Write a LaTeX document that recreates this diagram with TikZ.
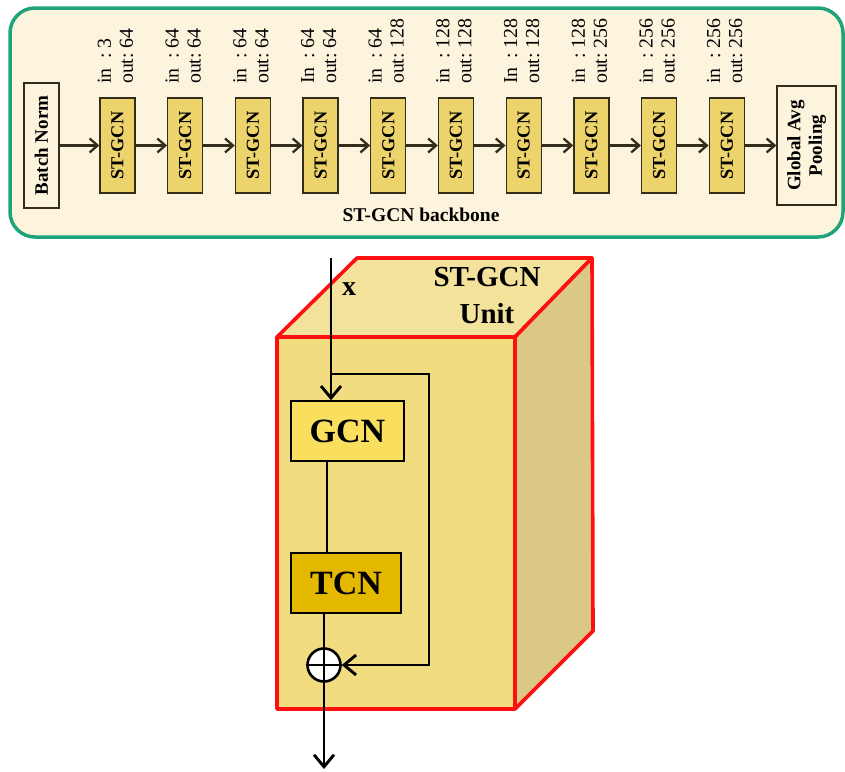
\documentclass[tikz,border=0pt]{standalone}
\usepackage{fontspec}
\setmainfont{Liberation Serif}
\usetikzlibrary{arrows.meta,calc}
\definecolor{panelfill}{HTML}{FCF4DC}
\definecolor{panelgreen}{HTML}{1FA37A}
\definecolor{stfill}{HTML}{EDD36C}
\definecolor{darkline}{HTML}{332E1C}
\definecolor{cubetop}{HTML}{F3E29C}
\definecolor{cubefront}{HTML}{F2DC80}
\definecolor{cuberight}{HTML}{DCC886}
\definecolor{gcnfill}{HTML}{FADF5E}
\definecolor{tcnfill}{HTML}{E5B800}
\definecolor{cubered}{HTML}{FF1010}
\tikzset{
  stbox/.style={draw=darkline, line width=1.3pt, fill=stfill, rotate=90, minimum width=95pt, minimum height=35pt, inner sep=0pt, font=\fontsize{18.3}{20}\selectfont\bfseries},
  plainbox/.style={draw=darkline, line width=1.3pt, fill=panelfill, rotate=90, inner sep=0pt, font=\fontsize{19}{21.5}\selectfont\bfseries, align=center},
  iolabel/.style={rotate=90, anchor=west, inner sep=0pt, font=\fontsize{19.8}{22}\selectfont},
  toparrow/.style={draw=darkline, line width=2.3pt, -{Straight Barb[length=8pt,width=14pt,line width=2.3pt]}},
  unitline/.style={draw=black, line width=2.9pt},
  unitarrow/.style={unitline, -{Straight Barb[length=12pt,width=20pt,line width=2.9pt]}},
  unitbox/.style={draw=black, line width=1.5pt, minimum height=60pt, inner sep=0pt, font=\fontsize{34}{36}\selectfont\bfseries},
}
\begin{document}
\begin{tikzpicture}[x=1pt,y=-1pt]
\useasboundingbox (0,0) rectangle (845,771);
% top panel
\draw[panelgreen, line width=3.5pt, fill=panelfill, rounded corners=25pt] (10,8) rectangle (843,237);
\node[plainbox, minimum width=125pt, minimum height=35pt] (bn) at (41.5,145.5) {Batch Norm};
\node[plainbox, minimum width=119pt, minimum height=59pt] (gap) at (806.5,145.5) {Global Avg\\Pooling};
\foreach \i [count=\k from 0] in {1,...,10}{
  \node[stbox] (s\i) at ({117.5+67.7*\k},145.5) {ST-GCN};
}
\foreach \i/\a/\b/\c [count=\k from 0] in {1/in/3/64, 2/in/64/64, 3/in/64/64, 4/In/64/64, 5/in/64/128, 6/in/128/128, 7/In/128/128, 8/in/128/256, 9/in/256/256, 10/in/256/256}{
  \node[iolabel] (l\i) at ({117.5+67.7*\k},84) {\begin{tabular}{@{}l@{}l@{}}\a & :\ \b\\ out & :\ \c\end{tabular}};
}
\draw[toparrow] (bn) -- (s1);
\foreach \i/\j in {1/2,2/3,3/4,4/5,5/6,6/7,7/8,8/9,9/10}{
  \draw[toparrow] (s\i) -- (s\j);
}
\draw[toparrow] (s10) -- (gap);
\node[font=\fontsize{19.5}{21}\selectfont\bfseries] (bbl) at (421,215) {ST-GCN backbone};
% cube
\filldraw[draw=cubered, fill=cubetop, line width=3.6pt, line join=round] (277,337) -- (357,258) -- (592,258) -- (515,337) -- cycle;
\filldraw[draw=cubered, fill=cuberight, line width=3.6pt, line join=round] (515,337) -- (592,258) -- (593,631) -- (515,709) -- cycle;
\filldraw[draw=cubered, fill=cubefront, line width=3.6pt, line join=round] (277,337) rectangle (515,709);
\node[font=\fontsize{29}{37}\selectfont\bfseries, align=center] (unit) at (487,296) {ST-GCN\\Unit};
% unit contents
\node[unitbox, fill=gcnfill, minimum width=113pt] (gcn) at (347.5,431) {GCN};
\node[unitbox, fill=tcnfill, minimum width=110pt] (tcn) at (346,583) {TCN};
\node[draw=black, line width=2.6pt, fill=white, circle, minimum size=33pt, inner sep=0pt] (sum) at (324,665) {};
\draw[black, line width=2.2pt] (sum.north) -- (sum.south) (sum.west) -- (sum.east);
\coordinate (xin) at (331,258);
\coordinate (split) at (331,374);
\coordinate (skipa) at (429,374);
\coordinate (skipb) at (429,665);
\coordinate (yout) at (324,769);
\draw[unitarrow] (xin) -- (xin |- gcn.north);
\node[font=\fontsize{28}{30}\selectfont\bfseries] (xl) at (349,289) {x};
\draw[unitarrow] (split) -- (skipa) -- (skipb) -- (sum.east);
\draw[unitline] (327,461) -- (327,553);
\draw[unitline] (324,614) -- (sum.north);
\draw[unitarrow] (sum.south) -- (yout);
\end{tikzpicture}
\end{document}
